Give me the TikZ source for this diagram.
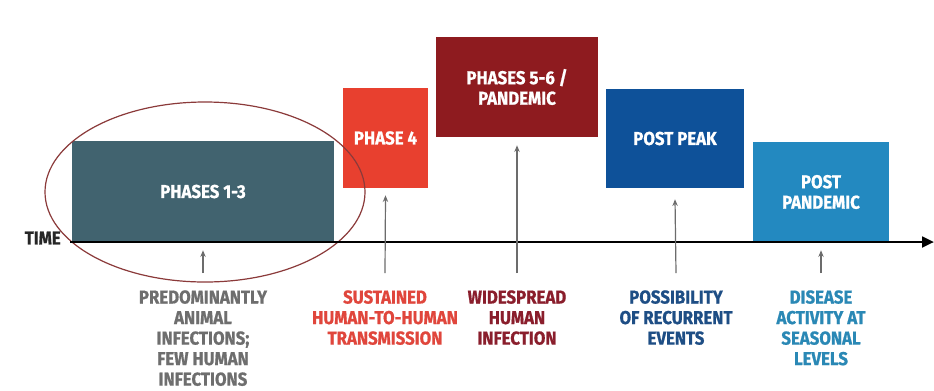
\documentclass[tikz,border=0pt]{standalone}
\usepackage{fontspec}
\setmainfont{Fira Sans}
\newfontfamily\dinfont[FakeStretch=0.9,BoldFeatures={FakeBold=0.8}]{Fira Sans}
\usetikzlibrary{arrows.meta,calc}
\definecolor{cA}{HTML}{41636F}
\definecolor{cB}{HTML}{E8402F}
\definecolor{cC}{HTML}{8E1B1F}
\definecolor{cD}{HTML}{0E5199}
\definecolor{cE}{HTML}{2389C0}
\definecolor{tA}{HTML}{6E6E6E}
\definecolor{tB}{HTML}{E0463C}
\definecolor{tC}{HTML}{8A1E2C}
\definecolor{tD}{HTML}{1E4E85}
\definecolor{tE}{HTML}{2A88B5}
\definecolor{ell}{HTML}{8B3A3A}
\begin{document}
\begin{tikzpicture}[x=0.75pt,y=-0.75pt,
  txt/.style={font=\dinfont\bfseries\fontsize{14}{15.4}\selectfont},
  phasebox/.style={txt,text=white,align=center,inner sep=0pt,minimum height=100*0.75pt},
  lbl/.style={txt,align=center,anchor=north,inner sep=0pt},
  ptr/.style={draw=gray!85!black,line width=0.9pt,-{Stealth[length=5pt,width=4pt]}}]
\useasboundingbox (0,0) rectangle (934,390);
\fill[white] (0,0) rectangle (934,390);
% boxes
\node[phasebox,fill=cA,minimum width=262*0.75pt,minimum height=101*0.75pt] (b13) at (203,191.5) {PHASES 1-3};
\node[phasebox,fill=cB,minimum width=85*0.75pt] (b4) at (385.5,138) {PHASE 4};
\node[phasebox,fill=cC,minimum width=162*0.75pt] (b56) at (517,87) {PHASES 5-6 /\\PANDEMIC};
\node[phasebox,fill=cD,minimum width=138*0.75pt,minimum height=99*0.75pt] (bpp) at (675,138.5) {POST PEAK};
\node[phasebox,fill=cE,minimum width=136*0.75pt] (bpd) at (821,192) {POST\\PANDEMIC};
% ellipse
\draw[ell,line width=0.9pt] (205,192) ellipse [x radius=160, y radius=90];
% axis
\coordinate (a0) at (70,242);
\coordinate (a1) at (934,242);
\draw[line width=2pt,-{Triangle[length=9pt,width=8pt]}] (a0) -- (a1);
\node[txt,text=black!85,anchor=east,inner sep=0pt] (time) at (61,238) {TIME};
% labels
\node[lbl,text=tA] (l13) at (203,290) {PREDOMINANTLY\\ANIMAL\\INFECTIONS;\\FEW HUMAN\\INFECTIONS};
\node[lbl,text=tB] (l4) at (385,290) {SUSTAINED\\HUMAN-TO-HUMAN\\TRANSMISSION};
\node[lbl,text=tC] (l56) at (517,290) {WIDESPREAD\\HUMAN\\INFECTION};
\node[lbl,text=tD] (lpp) at (676,290) {POSSIBILITY\\OF RECURRENT\\EVENTS};
\node[lbl,text=tE] (lpd) at (821,290) {DISEASE\\ACTIVITY AT\\SEASONAL\\LEVELS};
% pointers
\draw[ptr] ([yshift=12.75pt]l13.north) -- ([yshift=-6pt]b13.south);
\draw[ptr] ([yshift=12.75pt]l4.north) -- ([yshift=-5.25pt]b4.south);
\draw[ptr] ([yshift=12.75pt]l56.north) -- ([yshift=-6pt]b56.south);
\draw[ptr] ([yshift=12.75pt]lpp.north) -- ([yshift=-8.25pt]bpp.south);
\draw[ptr] ([yshift=12.75pt]lpd.north) -- ([yshift=-6pt]bpd.south);
\end{tikzpicture}
\end{document}
